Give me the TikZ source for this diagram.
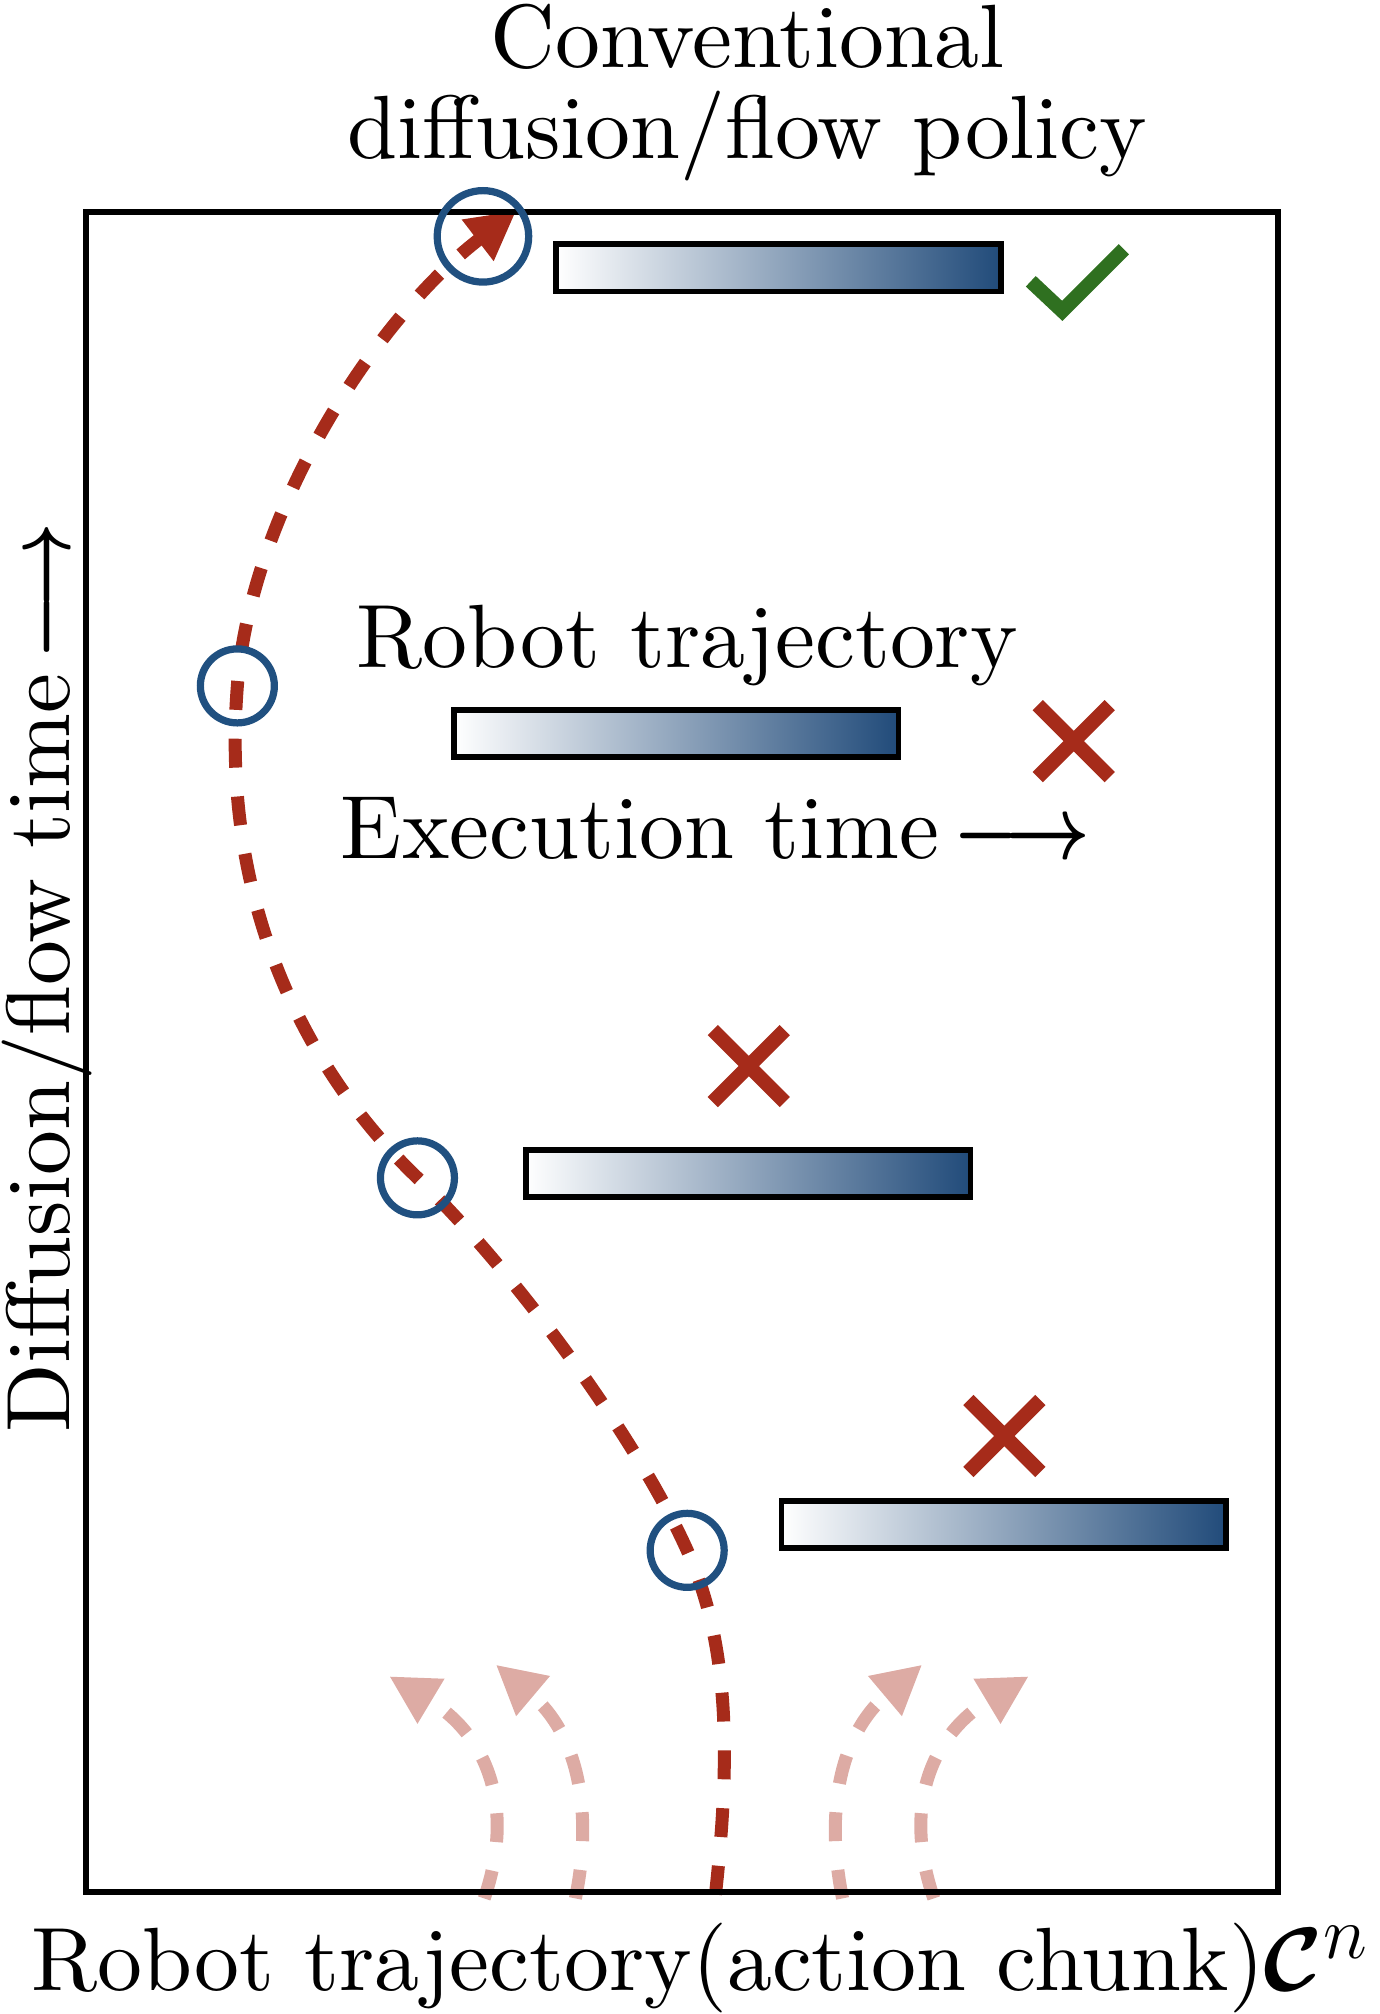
\documentclass[tikz,border=0pt]{standalone}
\usepackage{amsmath, amssymb}
\usepackage{graphicx}
\usepackage{fontspec}
\setmainfont{lmroman10-regular}[Extension=.otf]
\usepackage{xcolor}
\usepackage{tikz}
\usetikzlibrary{arrows.meta, shapes.misc, positioning}

\definecolor{flowred}{RGB}{166,43,26}
\definecolor{ghostred}{RGB}{221,171,164}
\definecolor{ringblue}{RGB}{32,80,128}
\definecolor{barblue}{RGB}{33,75,122}
\definecolor{okgreen}{RGB}{47,112,32}

\newcommand{\timearrow}{\hspace{4pt}\scalebox{0.82}[1]{$\boldsymbol{\longrightarrow}$}}

\pgfdeclarelayer{bg}
\pgfsetlayers{bg,main}

\begin{document}
\begin{tikzpicture}[
    x=0.0125cm, y=-0.0125cm,
    lbl/.style={font=\fontsize{24.88}{25}\selectfont, inner sep=0pt},
    panel/.style={draw=black, line width=1.6pt, minimum width=11.6cm,
                  minimum height=16.35cm, inner sep=0pt},
    chunk/.style={draw=black, line width=1.6pt, left color=white,
                  right color=barblue, minimum width=4.325cm,
                  minimum height=0.46cm, inner sep=0pt},
    ring/.style={circle, draw=ringblue, line width=2pt,
                 minimum size=0.72cm, inner sep=0pt},
    bigring/.style={ring, minimum size=0.89cm},
    nogo/.style={cross out, draw=flowred, line width=4pt,
                 minimum size=0.56cm, inner sep=0pt},
    okmark/.style={draw=okgreen, line width=4pt},
    flow/.style={draw=flowred, line width=3.6pt, dash pattern=on 8pt off 8pt,
                 -{Triangle[length=13.5pt, width=13.5pt]}},
    ghost/.style={flow, draw=ghostred},
  ]
    \useasboundingbox (0,0) rectangle (1074,1568);

    % ── Frame and axis labels ────────────────────
    \node[panel] (panel) at (531,819) {};
    \node[lbl, align=center] (title) at (582,72) {Conventional\\diffusion/flow policy};
    \node[lbl, rotate=90, anchor=base] (ylabel) at (54,761) {Diffusion/flow time\timearrow};
    \node[lbl, anchor=base] (xlabel) at (545,1550) {Robot trajectory(action chunk)$\boldsymbol{\mathcal{C}}^n$};

    % ── Trajectory chunks ────────────────────────
    \node[chunk] (chunk1) at (606,208.5) {};
    \node[chunk] (chunk2) at (526.5,571) {};
    \node[chunk] (chunk3) at (582.5,913.5) {};
    \node[chunk] (chunk4) at (781.5,1187) {};
    \node[lbl, anchor=base] (legtop) at (535,520) {Robot trajectory};
    \node[lbl, anchor=base] (legbot) at (557,668) {Execution time\timearrow};

    % ── Marks ────────────────────────────────────
    \coordinate (ok) at (827,242);
    \draw[okmark] (ok) ++(-24.5,-23) -- (ok) -- ++(48,-48);
    \node[nogo] (no2) at (836,577) {};
    \node[nogo] (no3) at (583,830) {};
    \node[nogo] (no4) at (782,1118) {};

    % ── Denoising steps ──────────────────────────
    \node[bigring] (c1) at (376,184) {};
    \node[ring] (c2) at (184.8,534) {};
    \node[ring] (c3) at (325,917) {};
    \node[ring] (c4) at (535,1207) {};

    \coordinate (s0) at (557,1475);
    \coordinate (tip) at (402,164);
    \coordinate (ga) at (377,1478);
    \coordinate (gb) at (448,1478);
    \coordinate (gc) at (656,1478);
    \coordinate (gd) at (727,1478);

    \begin{pgfonlayer}{bg}
      % main flow path
      \draw[flow] (s0) .. controls (569,1366) and (567.8,1279.8) .. (c4.center)
                       .. controls (494,1116) and (397,986) .. (c3.center)
                       .. controls (238.6,834.2) and (171.4,704) .. (c2.center)
                       .. controls (195,400) and (290,250) .. (tip);
      % other samples
      \draw[ghost] (ga) .. controls (402,1405) and (378,1350) .. (303,1305);
      \draw[ghost] (gb) .. controls (462,1410) and (450,1350) .. (386,1296);
      \draw[ghost] (gc) .. controls (642,1410) and (654,1350) .. (718,1296);
      \draw[ghost] (gd) .. controls (702,1405) and (726,1350) .. (801,1305);
    \end{pgfonlayer}
  \end{tikzpicture}
\end{document}
